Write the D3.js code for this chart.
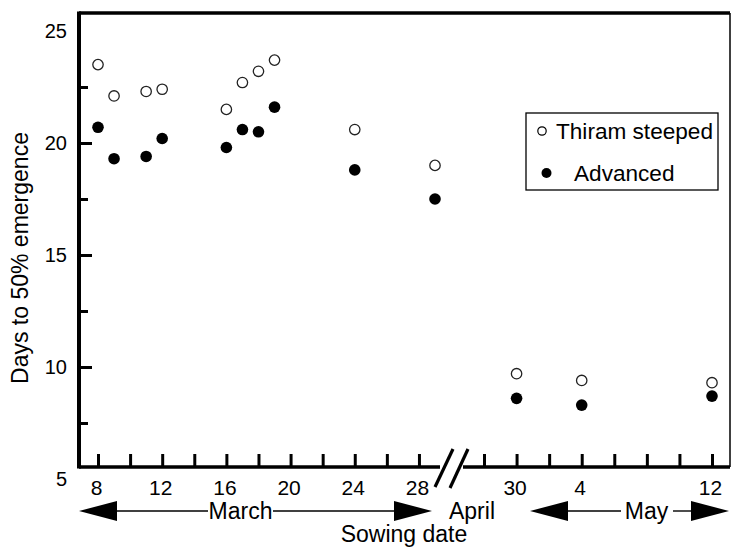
<!DOCTYPE html>
<html><head><meta charset="utf-8">
<script src="https://cdn.jsdelivr.net/npm/d3@7"></script>
<style>html,body{margin:0;padding:0;background:#fff;}svg{display:block;font-family:"Liberation Sans",Arial,Helvetica,sans-serif;}</style>
</head><body><svg id="chart" width="732" height="548"></svg>
<script>
// Day number counted from 1 March (April 30 = 61, May 4 = 65, May 12 = 73)
const sowingDay = [8, 9, 11, 12, 16, 17, 18, 19, 24, 29, 61, 65, 73];
const thiramSteeped = [23.5, 22.1, 22.3, 22.4, 21.5, 22.7, 23.2, 23.7, 20.6, 19.0, 9.7, 9.4, 9.3];
const advanced = [20.7, 19.3, 19.4, 20.2, 19.8, 20.6, 20.5, 21.6, 18.8, 17.5, 8.6, 8.3, 8.7];
const xTickDays = [8, 10, 12, 14, 16, 18, 20, 22, 24, 26, 28, 59, 61, 63, 65, 67, 69, 71, 73];
const xTickText = {8: "8", 12: "12", 16: "16", 20: "20", 24: "24", 28: "28", 61: "30", 65: "4", 73: "12"};
const yLabelValues = [5, 10, 15, 20, 25];
const yMajorTicks = [10, 15, 20];
const yMinorTicks = [7.5, 12.5, 17.5, 22.5];
const legendLabels = ["Thiram steeped", "Advanced"];
const monthLabels = ["March", "April", "May"];

const svg = d3.select("#chart");
const L = 79, R = 730, T = 13, B = 467;

const x = d3.scaleLinear().domain([8, 29, 59, 73]).range([98, 435, 484, 712]);
const y = d3.scaleLinear().domain([5, 25]).range([479, 31]);

// x ticks & labels
const xAxis = d3.axisBottom(x).tickValues(xTickDays).tickSizeInner(-13).tickSizeOuter(0)
  .tickPadding(13).tickFormat(d => xTickText[d] || "");
const gx = svg.append("g").attr("transform", `translate(0,${B})`).call(xAxis);
gx.select(".domain").remove();
gx.selectAll(".tick line").attr("stroke", "#000").attr("stroke-width", 3);
gx.selectAll(".tick text").attr("font-size", 21).attr("fill", "#000").attr("dx", -2);
gx.attr("font-family", null);

// y labels
const gyl = svg.append("g").attr("transform", `translate(${L},0)`)
  .call(d3.axisLeft(y).tickValues(yLabelValues).tickSize(0).tickPadding(12));
gyl.select(".domain").remove();
gyl.attr("font-family", null);
gyl.selectAll(".tick text").attr("font-size", 20).attr("fill", "#000");

// y major ticks (inward)
const gym = svg.append("g").attr("transform", `translate(${L},0)`)
  .call(d3.axisLeft(y).tickValues(yMajorTicks).tickSizeInner(-13).tickSizeOuter(0).tickFormat(""));
gym.select(".domain").remove();
gym.selectAll(".tick line").attr("stroke", "#000").attr("stroke-width", 3);
const gyn = svg.append("g").attr("transform", `translate(${L},0)`)
  .call(d3.axisLeft(y).tickValues(yMinorTicks).tickSizeInner(-9).tickSizeOuter(0).tickFormat(""));
gyn.select(".domain").remove();
gyn.selectAll(".tick line").attr("stroke", "#000").attr("stroke-width", 3);

// frame
const gapL = 440, gapR = 463;
svg.append("line").attr("x1", L).attr("x2", L).attr("y1", T - 1.5).attr("y2", B + 1.5).attr("stroke", "#000").attr("stroke-width", 4);
svg.append("line").attr("x1", L).attr("x2", R).attr("y1", T).attr("y2", T).attr("stroke", "#000").attr("stroke-width", 3.5);
svg.append("line").attr("x1", R).attr("x2", R).attr("y1", T).attr("y2", B).attr("stroke", "#000").attr("stroke-width", 1.5);
svg.append("line").attr("x1", L).attr("x2", gapL).attr("y1", B).attr("y2", B).attr("stroke", "#000").attr("stroke-width", 3.5);
svg.append("line").attr("x1", gapR).attr("x2", R).attr("y1", B).attr("y2", B).attr("stroke", "#000").attr("stroke-width", 3.5);
// break marks
[[435, 487, 453, 449], [450, 488, 468, 449]].forEach(s => {
  svg.append("line").attr("x1", s[0]).attr("y1", s[1]).attr("x2", s[2]).attr("y2", s[3])
    .attr("stroke", "#000").attr("stroke-width", 3.2);
});

// points
svg.append("g").selectAll("circle").data(sowingDay).join("circle")
  .attr("cx", d => x(d)).attr("cy", (d, i) => y(thiramSteeped[i])).attr("r", 5.2)
  .attr("fill", "#fff").attr("stroke", "#222").attr("stroke-width", 1.3);
svg.append("g").selectAll("circle").data(sowingDay).join("circle")
  .attr("cx", d => x(d)).attr("cy", (d, i) => y(advanced[i])).attr("r", 5.8)
  .attr("fill", "#000");

// legend
const lg = svg.append("g");
lg.append("rect").attr("x", 526).attr("y", 113).attr("width", 192).attr("height", 77)
  .attr("fill", "#fff").attr("stroke", "#000").attr("stroke-width", 1.3);
lg.append("circle").attr("cx", 542).attr("cy", 131).attr("r", 4.2).attr("fill", "#fff").attr("stroke", "#000").attr("stroke-width", 1.2);
lg.append("circle").attr("cx", 546.5).attr("cy", 173).attr("r", 5).attr("fill", "#000");
lg.append("text").attr("x", 556).attr("y", 138.5).attr("font-size", 22.6).text(legendLabels[0]);
lg.append("text").attr("x", 574).attr("y", 180.5).attr("font-size", 22.6).text(legendLabels[1]);

// y title
svg.append("text").attr("transform", "translate(28,258) rotate(-90)").attr("text-anchor", "middle")
  .attr("font-size", 23).text("Days to 50% emergence");

// month arrows row
const ay = 511;
function arrowHead(tipX, dir) {
  const len = 38, h = 10;
  svg.append("path").attr("d", `M${tipX},${ay} L${tipX + dir * len},${ay - h} L${tipX + dir * len},${ay + h} Z`).attr("fill", "#000");
}
function seg(x1, x2) {
  svg.append("line").attr("x1", x1).attr("x2", x2).attr("y1", ay).attr("y2", ay).attr("stroke", "#000").attr("stroke-width", 1.4);
}
arrowHead(79, 1); seg(117, 208);
svg.append("text").attr("x", 240.5).attr("y", 518.5).attr("text-anchor", "middle").attr("font-size", 23).text(monthLabels[0]);
seg(273, 395); arrowHead(432, -1);
svg.append("text").attr("x", 472).attr("y", 518.5).attr("text-anchor", "middle").attr("font-size", 23).text(monthLabels[1]);
arrowHead(530, 1); seg(568, 621);
svg.append("text").attr("x", 646.5).attr("y", 518.5).attr("text-anchor", "middle").attr("font-size", 23).text(monthLabels[2]);
seg(673, 692); arrowHead(729, -1);

// x title
svg.append("text").attr("x", 404).attr("y", 542).attr("text-anchor", "middle").attr("font-size", 23).text("Sowing date");
</script></body></html>
